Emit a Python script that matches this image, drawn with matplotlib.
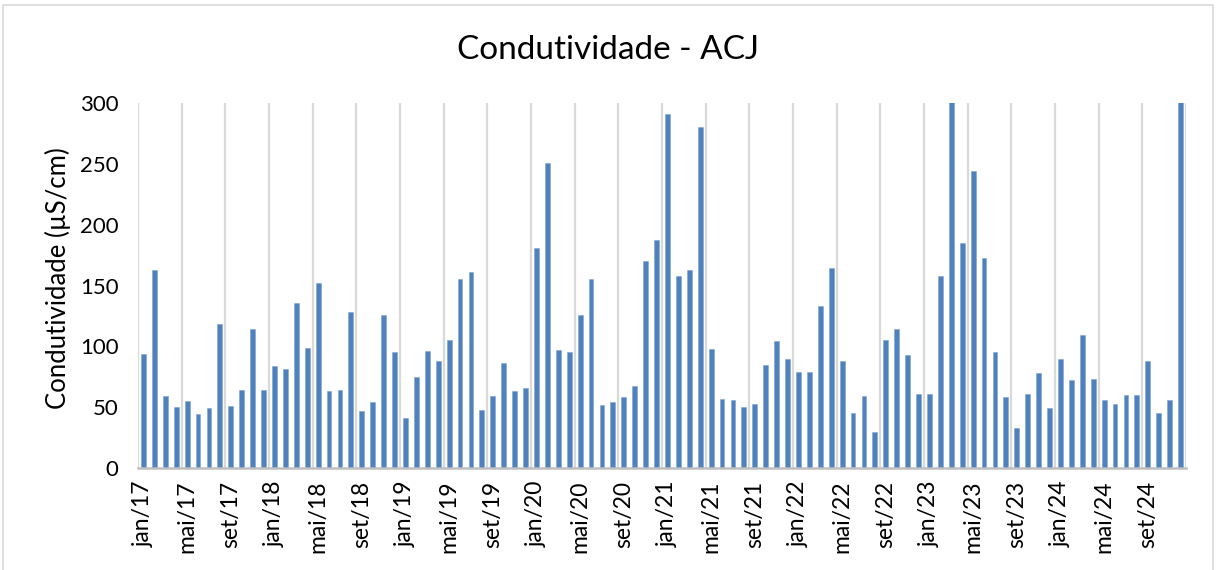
import matplotlib
matplotlib.use("Agg")
import matplotlib.pyplot as plt
from matplotlib.patches import Rectangle

plt.rcParams['font.family'] = ['Lato', 'DejaVu Sans']

month_names = ["jan", "fev", "mar", "abr", "mai", "jun", "jul", "ago", "set", "out", "nov", "dez"]
years = ["17", "18", "19", "20", "21", "22", "23", "24"]
categories = [f"{m}/{y}" for y in years for m in month_names]

values = [
    94, 163, 59, 50, 55, 44, 49, 118, 51, 64, 114, 64,          # 2017
    84, 81, 136, 99, 152, 63, 64, 128, 47, 54, 126, 95,         # 2018
    41, 75, 96, 88, 105, 155, 161, 48, 59, 86, 63, 66,          # 2019
    181, 251, 97, 95, 126, 155, 52, 54, 58, 67, 170, 187,       # 2020
    291, 158, 163, 280, 98, 57, 56, 50, 53, 85, 104, 90,        # 2021
    79, 79, 133, 164, 88, 45, 59, 30, 105, 114, 93, 61,         # 2022
    61, 158, 310, 185, 244, 173, 95, 58, 33, 61, 78, 49,        # 2023
    90, 72, 109, 73, 56, 53, 60, 60, 88, 45, 56, 310,           # 2024
]

tick_step = 4
title = "Condutividade - ACJ"
ylabel = "Condutividade (µS/cm)"
yticks = [0, 50, 100, 150, 200, 250, 300]

fig = plt.figure(figsize=(12.16, 5.70), dpi=100)
ax = fig.add_axes([138/1216, 1-468/570, (1186-138)/1216, (468-103)/570])

x = list(range(len(values)))
ax.bar(x, values, width=0.45, color="#4F81BD", edgecolor="#7fa3d3", linewidth=0.4, zorder=3)

ax.set_xlim(-0.5, len(values) - 0.5)
ax.set_ylim(0, 300)
ax.set_yticks(yticks)
ax.set_xticks(x[::tick_step])
ax.set_xticklabels(categories[::tick_step], rotation=90, fontsize=16.5)
ax.tick_params(axis='y', length=0, labelsize=16, pad=14)
ax.tick_params(axis='x', length=0, pad=9)

for b in range(0, len(values) + 1, tick_step):
    ax.axvline(b - 0.5, color="#d9d9d9", linewidth=1.6, zorder=1)

for s in ["top", "right", "left"]:
    ax.spines[s].set_visible(False)
ax.spines["bottom"].set_color("#bfbfbf")
ax.spines["bottom"].set_linewidth(1.8)
ax.spines["bottom"].set_zorder(4)

fig.text(0.5, 1-50/570, title, ha="center", va="center", fontsize=24)
fig.text(58/1216, 1-278/570, ylabel, ha="center", va="center", rotation=90, fontsize=18.5)

fig.patches.append(Rectangle((3/1216, -0.01), 1210/1216, 1-5/570 + 0.01, transform=fig.transFigure,
                             fill=False, edgecolor="#d9d9d9", linewidth=1.2))

fig.savefig("out.png", dpi=100)
